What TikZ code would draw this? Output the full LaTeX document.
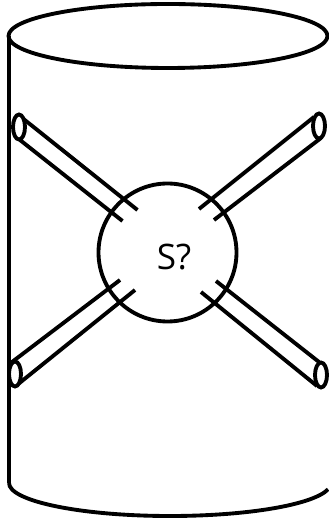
\documentclass[tikz,border=0pt]{standalone}
\usepackage{fontspec}
\setmainfont{Open Sans}
\tikzset{
  wall/.style={line width=2.2pt},
  tube/.style={line width=2.2pt},
  tubeend/.style={line width=2.2pt,fill=white}
}
\begin{document}
\begin{tikzpicture}[x=0.02cm,y=-0.02cm]
    \useasboundingbox (0,0) rectangle (328,519);
    \draw[wall] (168,36) ellipse [x radius=159.5,y radius=32];
    \draw[wall] (9,36)--(9,483);
    \draw[wall] (9,483) arc [start angle=180,end angle=349,x radius=161,y radius=-33];
    \draw[wall] (167.5,252.5) circle [radius=69];
    \node (label) at (174,257) {\fontsize{20pt}{24pt}\selectfont S?};
    \foreach \xa/\ya/\xb/\yb/\xc/\yc/\xd/\yd/\xe/\ye in {
      18.5/115/137.5/210/20/140/122.5/221/19/127,
      314/117/199/209/321/138/214/220/319/126,
      12/362/120/280/17/385/135/290/15/374,
      319/362/216/281/317/386/201/292/321/375}
    {
      \draw[tube] (\xa,\ya)--(\xb,\yb);
      \draw[tube] (\xc,\yc)--(\xd,\yd);
      \draw[tubeend] (\xe,\ye) ellipse [x radius=6,y radius=12.5];
    }
\end{tikzpicture}
\end{document}
